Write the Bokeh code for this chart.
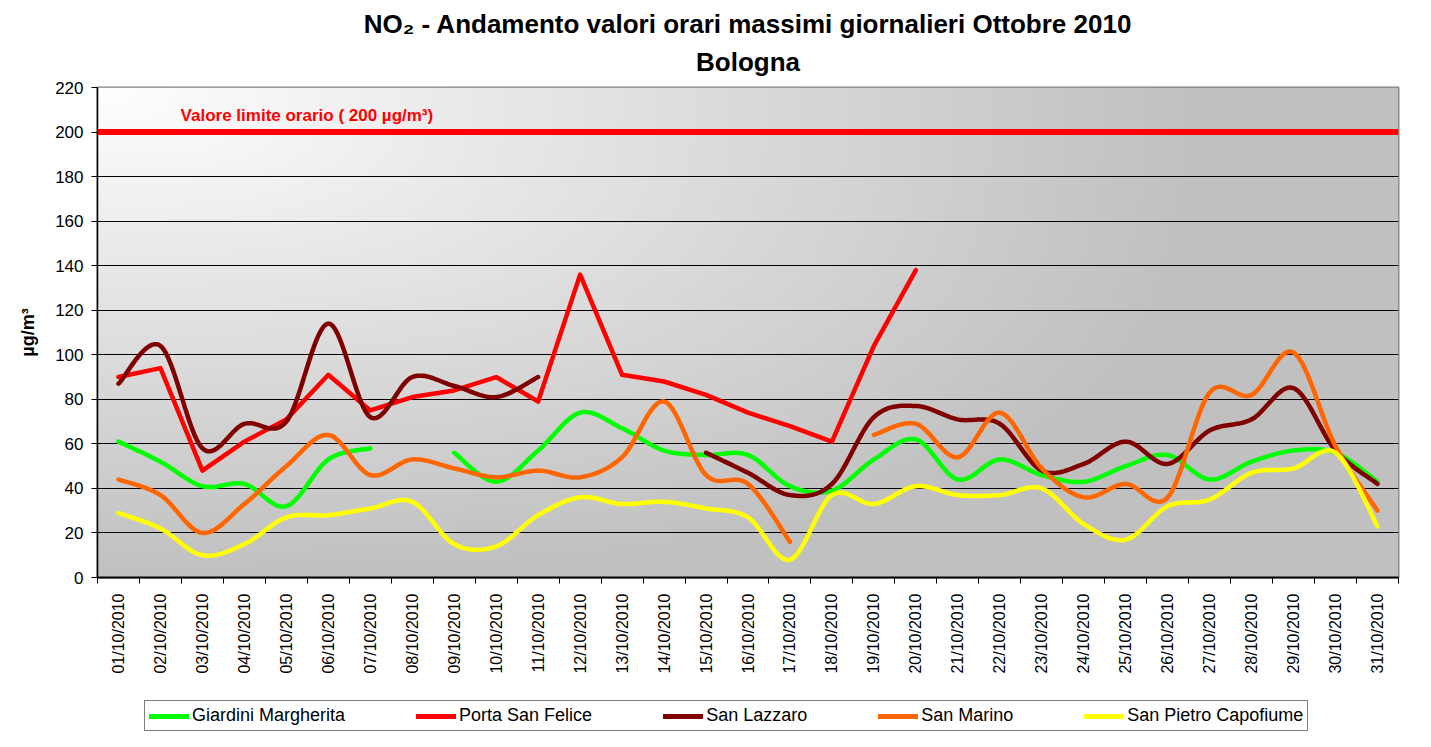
import numpy as np
from bokeh.plotting import figure
from bokeh.layouts import column
from bokeh.models import FixedTicker, Legend, LegendItem, Span, Label, Title
from bokeh.embed import file_html
from bokeh.resources import INLINE

nan = float("nan")

DATES = ["01/10/2010", "02/10/2010", "03/10/2010", "04/10/2010", "05/10/2010",
         "06/10/2010", "07/10/2010", "08/10/2010", "09/10/2010", "10/10/2010",
         "11/10/2010", "12/10/2010", "13/10/2010", "14/10/2010", "15/10/2010",
         "16/10/2010", "17/10/2010", "18/10/2010", "19/10/2010", "20/10/2010",
         "21/10/2010", "22/10/2010", "23/10/2010", "24/10/2010", "25/10/2010",
         "26/10/2010", "27/10/2010", "28/10/2010", "29/10/2010", "30/10/2010",
         "31/10/2010"]

GIARDINI = [61, 52, 41, 42, 32, 53, 58, nan, 56, 43, 57, 74, 67, 57, 55,
            55, 41, 39, 53, 62, 44, 53, 46, 43, 50, 55, 44, 52, 57, 56, 43]
PORTA = [90, 94, 48, 61, 71, 91, 75, 81, 84, 90, 79, 136, 91, 88, 82,
         74, 68, 61, 104, 138, nan, nan, nan, nan, nan, nan, nan, nan, nan, nan, nan]
LAZZARO = [87, 104, 58, 69, 70, 114, 72, 90, 86, 81, 90, nan, nan, nan, 56,
           47, 37, 42, 72, 77, 71, 69, 48, 51, 61, 51, 66, 71, 85, 57, 42]
MARINO = [44, 37, 20, 33, 50, 64, 46, 53, 49, 45, 48, 45, 54, 79, 46,
          42, 16, nan, 64, 69, 54, 74, 49, 36, 42, 36, 83, 82, 101, 59, 30]
PIETRO = [29, 22, 10, 15, 27, 28, 31, 34, 15, 14, 28, 36, 33, 34, 31,
          27, 8, 37, 33, 41, 37, 37, 40, 24, 17, 32, 35, 47, 49, 56, 23]
LIMIT = 200
Y_TICKS = [0, 20, 40, 60, 80, 100, 120, 140, 160, 180, 200, 220]

FONT = "Liberation Sans"
xs = np.arange(1, len(DATES) + 1, dtype=float)


def smooth_path(x, y, n=24):
    """Excel-like smoothed line (Catmull-Rom / Bezier), breaks at missing values."""
    x = np.asarray(x, float)
    y = np.asarray(y, float)
    ox, oy = [], []
    runs, cur = [], []
    for xi, yi in zip(x, y):
        if np.isnan(yi):
            if cur:
                runs.append(cur)
            cur = []
        else:
            cur.append((xi, yi))
    if cur:
        runs.append(cur)
    t = np.linspace(0, 1, n)
    for run in runs:
        P = np.array(run)
        m = len(P)
        if m == 1:
            ox += [P[0, 0]]
            oy += [P[0, 1]]
        for i in range(m - 1):
            p0 = P[i - 1] if i > 0 else P[i]
            p1, p2 = P[i], P[i + 1]
            p3 = P[i + 2] if i + 2 < m else P[i + 1]
            c1 = p1 + (p2 - p0) / 6.0
            c2 = p2 - (p3 - p1) / 6.0
            b = ((1 - t) ** 3)[:, None] * p1 + (3 * (1 - t) ** 2 * t)[:, None] * c1 \
                + (3 * (1 - t) * t ** 2)[:, None] * c2 + (t ** 3)[:, None] * p2
            ox += list(b[:, 0])
            oy += list(b[:, 1])
        ox.append(nan)
        oy.append(nan)
    return ox, oy


p = figure(width=1415, height=676, x_range=(0.5, len(DATES) + 0.5), y_range=(0, 220),
           output_backend="svg", toolbar_location=None,
           min_border_left=97, min_border_right=17, min_border_top=87, min_border_bottom=96,
           background_fill_color="white", border_fill_color="white")

# gradient background of the plot area
H, W = 120, 320
u = np.linspace(0, 1, W)[None, :]
v = np.linspace(1, 0, H)[:, None]  # distance from top (row 0 = bottom)
tt = np.clip(((u / 0.85) ** 3 + (v / 1.0) ** 3) ** (1 / 3), 0, 1)
c = (255 - 63 * tt).astype(np.uint8)
img = np.empty((H, W), dtype=np.uint32)
view = img.view(dtype=np.uint8).reshape((H, W, 4))
view[:, :, 0] = c
view[:, :, 1] = c
view[:, :, 2] = c
view[:, :, 3] = 255
bg = p.image_rgba(image=[img], x=0.5, y=0, dw=len(DATES), dh=220)
bg.level = "image"

# titles
p.title.text = "NO₂ - Andamento valori orari massimi giornalieri Ottobre 2010"
p.title.align = "center"
p.title.text_font = FONT
p.title.text_font_size = "26px"
p.title.text_font_style = "bold"
p.title.text_color = "black"
p.title.standoff = -8
p.add_layout(Title(text="Bologna", align="center", text_font=FONT, text_font_size="26px",
                   text_font_style="bold", text_color="black", standoff=21), "above")

# axes
p.xaxis.ticker = FixedTicker(ticks=list(xs), minor_ticks=list(np.arange(0.5, len(DATES) + 1, 1.0)))
p.xaxis.major_label_overrides = {float(i): d for i, d in zip(xs, DATES)}
p.xaxis.major_label_orientation = np.pi / 2
p.xaxis.major_tick_out = 0
p.xaxis.major_tick_in = 0
p.xaxis.minor_tick_out = 6
p.xaxis.minor_tick_in = 0
p.xaxis.minor_tick_line_color = "black"
p.xaxis.major_label_standoff = 10
p.xaxis.major_label_text_font = FONT
p.xaxis.major_label_text_font_size = "16px"
p.xaxis.major_label_text_color = "black"
p.xaxis.axis_line_color = "black"
p.xaxis.axis_line_width = 2

p.yaxis.ticker = FixedTicker(ticks=Y_TICKS, minor_ticks=[])
p.yaxis.major_tick_out = 6
p.yaxis.major_tick_in = 0
p.yaxis.major_tick_line_color = "black"
p.yaxis.major_label_standoff = 8
p.yaxis.major_label_text_font = FONT
p.yaxis.major_label_text_font_size = "17px"
p.yaxis.major_label_text_color = "black"
p.yaxis.axis_line_color = "black"
p.yaxis.axis_line_width = 1.5
p.yaxis.axis_label = "µg/m³"
p.yaxis.axis_label_text_font = FONT
p.yaxis.axis_label_text_font_size = "18px"
p.yaxis.axis_label_text_font_style = "bold"
p.yaxis.axis_label_text_color = "black"
p.yaxis.axis_label_standoff = 14

p.xgrid.grid_line_color = None
p.ygrid.ticker = FixedTicker(ticks=Y_TICKS)
p.ygrid.grid_line_color = "black"
p.ygrid.grid_line_width = 1

p.outline_line_color = "#808080"
p.outline_line_width = 2

# limit line
p.add_layout(Span(location=LIMIT, dimension="width", line_color="#ff0000", line_width=6))
p.add_layout(Label(x=2.48, y=LIMIT, y_offset=7, text="Valore limite orario ( 200 µg/m³)",
                   text_color="#ff0000", text_font=FONT, text_font_size="17px",
                   text_font_style="bold", text_baseline="bottom"))

series = [
    ("Giardini Margherita", GIARDINI, "#00ff00", True),
    ("Porta San Felice", PORTA, "#ff0000", False),
    ("San Lazzaro", LAZZARO, "#800000", True),
    ("San Marino", MARINO, "#ff6600", True),
    ("San Pietro Capofiume", PIETRO, "#ffff00", True),
]

# separate strip below the chart holding the legend (series drawn out of view there)
lf = figure(width=1415, height=55, x_range=(1000, 1001), y_range=(1000, 1001),
            output_backend="svg", toolbar_location=None, min_border=0,
            outline_line_color=None, background_fill_color="white",
            border_fill_color="white")
lf.axis.visible = False
lf.grid.visible = False

items = []
for name, vals, col, sm in series:
    if sm:
        lx, ly = smooth_path(xs, vals)
    else:
        lx, ly = list(xs), list(vals)
    p.line(lx, ly, line_color=col, line_width=4.5, line_join="round", line_cap="round")
    rl = lf.line(lx, ly, line_color=col, line_width=5, line_cap="round")
    items.append(LegendItem(label=name, renderers=[rl]))

legend = Legend(items=items, orientation="horizontal", location=(47, 0),
                glyph_width=40, glyph_height=18, label_height=18, label_standoff=3,
                spacing=71, padding=4, margin=0, label_text_font=FONT,
                label_text_font_size="18px", label_text_color="black",
                border_line_color="black", border_line_width=1,
                background_fill_color="white", background_fill_alpha=1)
lf.add_layout(legend)

layout = column(p, lf, spacing=0)
open("out.html", "w").write(file_html(layout, INLINE))
